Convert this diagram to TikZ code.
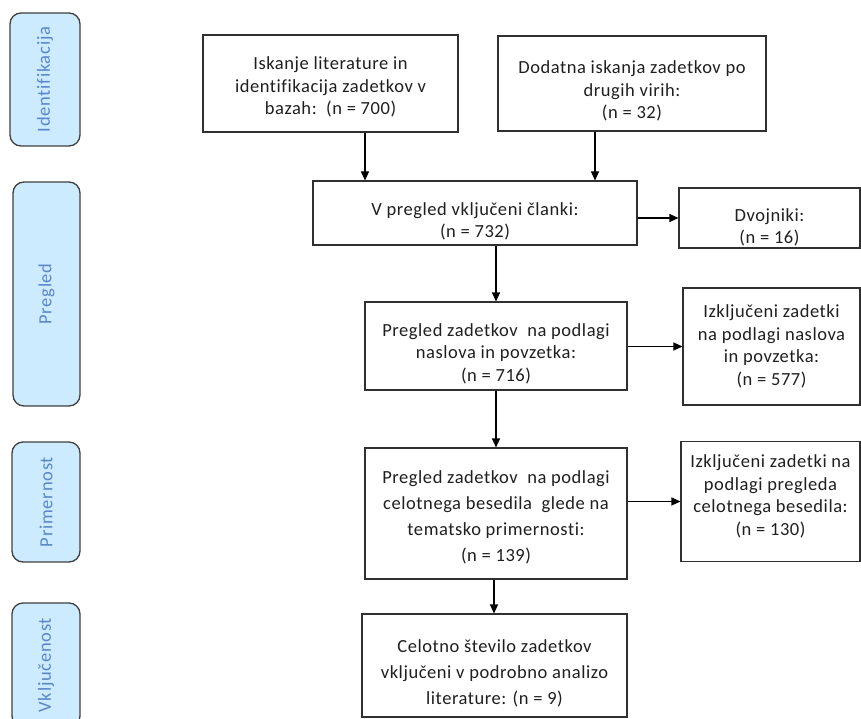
\documentclass[tikz,border=0pt]{standalone}
\usepackage{fontspec}
\setmainfont{Carlito}[Ligatures=NoCommon]
\newfontfamily\boxfont{Carlito}[Ligatures=NoCommon,LetterSpace=3]
\newfontfamily\sidefont{Carlito}[Ligatures=NoCommon,LetterSpace=4]
\usetikzlibrary{arrows.meta}
\definecolor{sidefill}{HTML}{CDEBFF}
\definecolor{sideblue}{HTML}{5A86C8}
\definecolor{boxline}{HTML}{303030}
\definecolor{sideline}{HTML}{404040}
\newcommand\dnsh[1]{\rule{0pt}{\dimexpr 14pt+2\dimexpr #1pt\relax\relax}}
\newcommand\upsh[1]{\rule[-\dimexpr 4.6pt+2\dimexpr #1pt\relax\relax]{0pt}{0pt}}
\begin{document}
\begin{tikzpicture}[x=1pt,y=-1pt,
  box/.style={draw=boxline, line width=1.1pt, fill=white, align=center, inner sep=0pt,
    font=\boxfont\fontsize{18.5}{22.5}\selectfont, text=black!88},
  tallbox/.style={box, font=\boxfont\fontsize{18.5}{26}\selectfont},
  side/.style={draw=sideline, line width=1.3pt, fill=sidefill, rounded corners=11pt,
    inner sep=0pt, rotate=90, text=sideblue, font=\sidefont\fontsize{18.5}{20}\selectfont},
  arr/.style={-{Triangle[width=8pt,length=9pt]}, line width=1.1pt, draw=black}
]
\useasboundingbox (0,0) rectangle (861,719);
\clip (0,0) rectangle (861,719);
\fill[white] (0,0) rectangle (861,719);

% side labels
\node[side, minimum width=133pt, minimum height=70pt] (sid) at (45,79.5) {Identifikacija};
\node[side, minimum width=224pt, minimum height=67pt] (spr) at (46.5,294) {Pregled};
\node[side, minimum width=120pt, minimum height=68pt] (spm) at (46,502) {Primernost};
\node[side, minimum width=124pt, minimum height=68pt] (svk) at (46,665) {Vključenost};

% main boxes
\node[box, minimum width=255pt, minimum height=97pt] (b1) at (330.5,83.5)
  {\dnsh{3}Iskanje literature in\\identifikacija zadetkov v\\bazah:\ \ (n = 700)};
\node[box, minimum width=268pt, minimum height=95pt] (b2) at (632,83.5)
  {\dnsh{7}Dodatna iskanja zadetkov po\\drugih virih:\\(n = 32)};
\node[box, minimum width=324pt, minimum height=64pt] (b3) at (475,213)
  {\dnsh{8}V pregled vključeni članki:\\(n = 732)};
\node[box, minimum width=181pt, minimum height=60pt] (dv) at (769.5,218)
  {\dnsh{9}Dvojniki:\\(n = 16)};
\node[box, minimum width=262pt, minimum height=88pt] (b4) at (496,346)
  {\dnsh{7}Pregled zadetkov\ \ na podlagi\\naslova in povzetka:\\(n = 716)};
\node[box, minimum width=177pt, minimum height=117pt] (ex1) at (771.5,346.5)
  {Izključeni zadetki\\na podlagi naslova\\in povzetka:\\(n = 577)};
\node[tallbox, minimum width=262pt, minimum height=131pt] (b5) at (496,513.5)
  {\dnsh{3}Pregled zadetkov\ \ na podlagi\\celotnega besedila\ \ glede na\\tematsko primernosti:\\(n = 139)};
\node[box, minimum width=179pt, minimum height=120pt] (ex2) at (770.5,501.5)
  {Izključeni zadetki na\\podlagi pregleda\\celotnega besedila:\\(n = 130)\upsh{4}};
\node[tallbox, minimum width=265pt, minimum height=103pt] (b6) at (494.5,665.5)
  {\dnsh{7}Celotno število zadetkov\\vključeni v podrobno analizo\\literature: (n = 9)};

% connector anchors
\coordinate (x1) at (365,0);
\coordinate (x2) at (595,0);
\coordinate (x3) at (496,0);
\coordinate (x4) at (494,0);

\draw[arr] (b1.south -| x1) -- (b3.north -| x1);
\draw[arr] (b2.south -| x2) -- (b3.north -| x2);
\draw[arr] (b3.south -| x3) -- (b4.north -| x3);
\draw[arr] (b4.south -| x3) -- (b5.north -| x3);
\draw[arr] (b5.south -| x4) -- (b6.north -| x4);
\draw[arr] (b3.east |- dv.west) -- (dv.west);
\draw[arr] (b4.east |- ex1.west) -- (ex1.west);
\draw[arr] (b5.east |- ex2.west) -- (ex2.west);
\end{tikzpicture}
\end{document}
